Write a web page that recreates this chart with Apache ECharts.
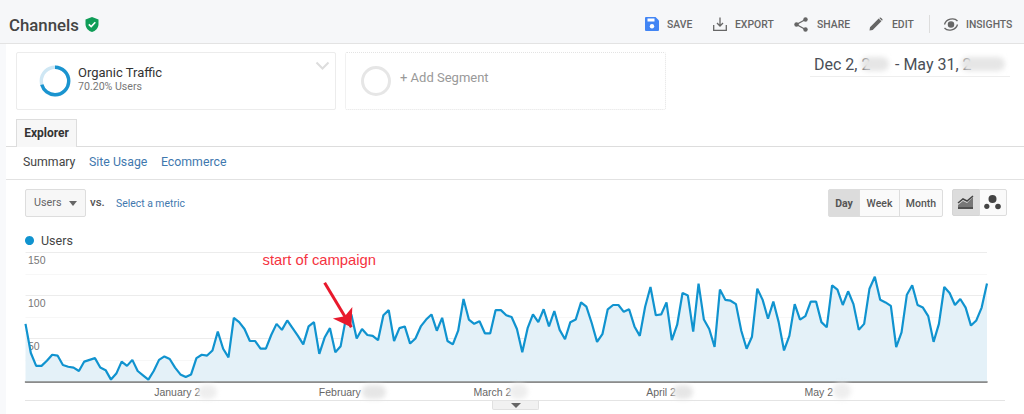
<!DOCTYPE html>
<html lang="en">
<head>
    <meta charset="UTF-8">
    <title>Channels - Users</title>
    <script src="https://cdn.jsdelivr.net/npm/echarts@6/dist/echarts.min.js"></script>
    <style>
        html,body{margin:0;padding:0;background:#fff;}
        body{position:relative;width:1024px;height:414px;overflow:hidden;font-family:Roboto,sans-serif;}
        .a{position:absolute;white-space:nowrap;box-sizing:border-box;}
        .tool{top:18px;font-size:10.4px;font-weight:500;color:#666;line-height:14px;}
        .link{color:#3f78ae;}
        .blob{background:#e6e6e6;filter:blur(2.5px);border-radius:8px;}
        .btn{top:189px;height:28px;line-height:27px;text-align:center;font-size:10.5px;font-weight:500;color:#555;border:1px solid #ddd;background:#fafafa;}
    </style>
</head>
<body>
<div class="a" style="left:0;top:0;width:1024px;height:44px;background:#f6f7f9;border-bottom:1px solid #e3e3e3;"></div>
<div class="a" style="left:0;top:44px;width:6px;height:370px;background:#f8f9fb;"></div>
<div class="a" style="left:9px;top:14px;font-size:16.8px;font-weight:500;color:#444;line-height:22px;">Channels</div>
<svg class="a" style="left:84px;top:16px;" width="16" height="17" viewBox="0 0 16 17">
    <path d="M8 1 L14.5 3.5 V8 C14.5 12 11.5 15 8 16 C4.5 15 1.5 12 1.5 8 V3.5 Z" fill="#0f9d58"/>
    <path d="M4.8 8.3 L7.2 10.6 L11.3 6.3" fill="none" stroke="#fff" stroke-width="1.6"/>
</svg>

<svg class="a" style="left:645px;top:17px;" width="14" height="14" viewBox="0 0 14 14">
    <path d="M1 0 H10.5 L14 3.5 V13 a1 1 0 0 1 -1 1 H1 a1 1 0 0 1 -1 -1 V1 a1 1 0 0 1 1 -1 Z" fill="#4285f4"/>
    <rect x="2.5" y="1.5" width="7" height="3" fill="#fff"/><circle cx="7" cy="9.3" r="2.2" fill="#fff"/>
</svg>
<div class="a tool" style="left:667px;">SAVE</div>
<svg class="a" style="left:713px;top:17px;" width="14" height="14" viewBox="0 0 14 14" fill="none" stroke="#666" stroke-width="1.3">
    <path d="M7 0.5 V9 M4 6 L7 9 L10 6 M0.7 8 V13.3 H13.3 V8"/>
</svg>
<div class="a tool" style="left:735px;">EXPORT</div>
<svg class="a" style="left:794px;top:17px;" width="14" height="15" viewBox="0 0 14 15">
    <path d="M11.5 2.5 L2.5 7.5 L11.5 12.5" fill="none" stroke="#666" stroke-width="1.3"/>
    <circle cx="11.5" cy="2.5" r="2.2" fill="#666"/><circle cx="2.5" cy="7.5" r="2.2" fill="#666"/><circle cx="11.5" cy="12.5" r="2.2" fill="#666"/>
</svg>
<div class="a tool" style="left:817px;">SHARE</div>
<svg class="a" style="left:869px;top:17px;" width="14" height="14" viewBox="0 0 14 14">
    <path d="M0.5 13.5 L1 10.3 L9.7 1.6 L12.4 4.3 L3.7 13 Z M10.6 0.7 a1 1 0 0 1 1.3 0 L13.3 2.1 a1 1 0 0 1 0 1.3 L13 3.7 L10.3 1 Z" fill="#666"/>
</svg>
<div class="a tool" style="left:892px;">EDIT</div>
<div class="a" style="left:929px;top:15px;width:1px;height:18px;background:#ddd;"></div>
<svg class="a" style="left:943px;top:17px;" width="16" height="15" viewBox="0 0 16 15" fill="none" stroke="#666" stroke-width="1.3">
    <path d="M1.5 7.5 C3 2 11 0 14.5 4 M14.5 7.5 C13 13 5 15 1.5 11"/><circle cx="8" cy="7.5" r="2.6" fill="#666"/>
</svg>
<div class="a tool" style="left:966px;">INSIGHTS</div>

<div class="a" style="left:16px;top:52px;width:320px;height:58px;border:1px solid #ececec;border-radius:2px;"></div>
<svg class="a" style="left:38px;top:64px;" width="34" height="34" viewBox="0 0 34 34">
    <circle cx="17" cy="17" r="13.7" fill="none" stroke="#cfe7f4" stroke-width="3.4"/>
    <circle cx="17" cy="17" r="13.7" fill="none" stroke="#1a94cf" stroke-width="3.4" stroke-dasharray="60.4 25.7" transform="rotate(-90 17 17)"/>
</svg>
<div class="a" style="left:78px;top:65px;font-size:13px;color:#333;line-height:16px;">Organic Traffic</div>
<div class="a" style="left:78px;top:80px;font-size:10.6px;color:#777;line-height:14px;">70.20% Users</div>
<svg class="a" style="left:315px;top:61px;" width="15" height="10" viewBox="0 0 15 10"><path d="M1.5 1.5 L7.5 7.5 L13.5 1.5" fill="none" stroke="#ddd" stroke-width="2"/></svg>

<div class="a" style="left:345px;top:52px;width:321px;height:58px;border:1px dotted #e3e3e3;border-radius:2px;"></div>
<svg class="a" style="left:360px;top:65px;" width="32" height="32" viewBox="0 0 32 32"><circle cx="16" cy="16" r="13.5" fill="none" stroke="#e6e6e6" stroke-width="3"/></svg>
<div class="a" style="left:400px;top:70px;font-size:13px;color:#999;line-height:16px;">+ Add Segment</div>

<div class="a" style="left:814px;top:55px;font-size:16px;color:#4a4f57;line-height:19px;">Dec 2, 2</div>
<div class="a" style="left:895px;top:55px;font-size:16px;color:#4a4f57;line-height:19px;">- May 31, 2</div>
<div class="a blob" style="left:861px;top:57px;width:28px;height:14px;"></div>
<div class="a blob" style="left:961px;top:57px;width:44px;height:14px;"></div>
<div class="a" style="left:810px;top:76px;width:200px;height:1px;background:#eee;"></div>

<div class="a" style="left:6px;top:146px;width:1018px;height:1px;background:#ddd;"></div>
<div class="a" style="left:16px;top:119px;width:61px;height:28px;background:#f7f7f7;border:1px solid #ddd;border-bottom:none;text-align:center;line-height:27px;font-size:12px;font-weight:700;color:#333;">Explorer</div>
<div class="a" style="left:23px;top:154px;font-size:12.3px;color:#444;line-height:16px;">Summary</div>
<div class="a link" style="left:89px;top:154px;font-size:12.3px;line-height:16px;">Site Usage</div>
<div class="a link" style="left:161px;top:154px;font-size:12.3px;line-height:16px;">Ecommerce</div>
<div class="a" style="left:6px;top:179px;width:1018px;height:1px;background:#e2e2e2;"></div>

<div class="a" style="left:25px;top:189px;width:61px;height:28px;background:#f7f7f7;border:1px solid #ddd;border-radius:2px;"></div>
<div class="a" style="left:34px;top:196px;font-size:10.8px;color:#666;line-height:14px;">Users</div>
<svg class="a" style="left:69px;top:201px;" width="8" height="5"><path d="M0 0 H8 L4 5 Z" fill="#666"/></svg>
<div class="a" style="left:90px;top:195px;font-size:11.5px;font-weight:500;color:#555;line-height:14px;">vs.</div>
<div class="a link" style="left:116px;top:197px;font-size:10.4px;line-height:14px;">Select a metric</div>

<div class="a btn" style="left:828px;width:32px;background:#dcdcdc;font-weight:700;border-radius:2px 0 0 2px;">Day</div>
<div class="a btn" style="left:859px;width:41px;">Week</div>
<div class="a btn" style="left:899px;width:44px;border-radius:0 2px 2px 0;">Month</div>
<div class="a" style="left:952px;top:189px;width:28px;height:27px;background:#dcdcdc;border:1px solid #d5d5d5;border-radius:2px 0 0 2px;"></div>
<div class="a" style="left:979px;top:189px;width:28px;height:27px;background:#fafafa;border:1px solid #ddd;border-radius:0 2px 2px 0;"></div>
<svg class="a" style="left:957px;top:195px;" width="18" height="16" viewBox="0 0 18 16">
    <path d="M1 10 L6 6 L10 8 L16 2 V14 H1 Z" fill="#777"/><path d="M1 8 L6 4 L10 6 L16 1 M1 13 H16" fill="none" stroke="#444" stroke-width="1.5"/>
</svg>
<svg class="a" style="left:984px;top:194px;" width="18" height="18" viewBox="0 0 18 18">
    <circle cx="8.5" cy="5" r="4" fill="#444"/><circle cx="2.8" cy="12.3" r="2.6" fill="#444"/><circle cx="14" cy="12.5" r="2.8" fill="#444"/>
</svg>

<div id="mybox" class="a" style="left:0;top:0;width:1024px;height:414px;"></div>

<div class="a blob" style="left:198px;top:385px;width:19px;height:14px;background:#eeeeee;"></div>
<div class="a blob" style="left:362px;top:385px;width:24px;height:14px;"></div>
<div class="a blob" style="left:509px;top:384px;width:19px;height:15px;background:#eeeeee;"></div>
<div class="a blob" style="left:673px;top:385px;width:20px;height:14px;"></div>
<div class="a blob" style="left:833px;top:383px;width:18px;height:16px;background:#eeeeee;"></div>
<div class="a" style="left:25px;top:400px;width:980px;height:1px;background:#e4e4e4;"></div>
<div class="a" style="left:492px;top:401px;width:47px;height:9px;background:#f1f1f1;border:1px solid #e0e0e0;border-top:none;border-radius:0 0 2px 2px;"></div>
<svg class="a" style="left:511px;top:403px;" width="10" height="5"><path d="M0 0 H10 L5 5 Z" fill="#666"/></svg>

<script>
    // days shown, Dec 2 to May 31
    var monthNames=['Dec','Jan','Feb','Mar','Apr','May'];
    var monthFirst=[2,1,1,1,1,1];
    var monthLast=[31,31,28,31,30,31];

    var tickDays=['Jan 1','Feb 1','Mar 1','Apr 1','May 1'];
    var tickLabels=['January 2','February','March 2','April 2','May 2'];
    // room kept for the blurred year behind each label
    var tickGaps=[17,23,17,11,16];

    var users=[
        67,33,18,18,24,31,30,19,17,16,12,23,25,27,16,13,2,9,23,18,25,12,7,2,12,25,29,26,16,8,
        5,8,27,31,30,36,58,38,28,74,69,61,47,47,38,38,54,67,60,71,62,53,43,64,69,32,51,62,34,41,74,
        78,50,61,54,53,48,77,83,47,62,64,44,50,64,72,78,59,74,47,43,59,96,72,67,70,56,56,
        83,83,77,75,61,34,62,78,69,84,64,82,60,49,69,72,92,87,68,46,55,84,89,89,81,84,64,53,87,110,77,78,
        92,48,66,103,100,58,114,72,61,40,107,95,94,90,59,38,52,108,95,73,93,69,36,53,90,72,76,93,93,69,
        63,112,107,89,105,90,60,67,108,122,95,92,88,40,57,101,112,89,86,76,46,67,110,103,89,96,86,65,71,86,114
    ];

    var categories=[];
    for(var m=0;m<monthNames.length;m++){
        for(var d=monthFirst[m];d<=monthLast[m];d++){
            categories.push(monthNames[m]+' '+d);
        }
    }

    var richLabels={t:{color:'#666',fontSize:10.5,fontFamily:'Liberation Sans'}};
    tickGaps.forEach(function(g,i){
        richLabels['g'+i]={width:g};
    });

    var mychart=echarts.init(document.getElementById('mybox'),null,{renderer:'svg'});
    mychart.setOption({
        animation:false,
        backgroundColor:'transparent',
        legend:{
            data:[{name:'Users',icon:'circle'}],
            left:20,
            top:229,
            itemWidth:9,
            itemHeight:9,
            itemGap:7,
            textStyle:{color:'#444',fontSize:12.5,fontFamily:'Roboto',padding:[0,0,0,2]}
        },
        grid:{left:25.5,right:37,top:252.7,height:128.6,containLabel:false},
        xAxis:{
            type:'category',
            boundaryGap:false,
            data:categories,
            axisLine:{lineStyle:{color:'#666',width:1.5}},
            axisTick:{show:false},
            splitLine:{show:false},
            axisLabel:{
                margin:5,
                hideOverlap:false,
                interval:function(i,name){return tickDays.indexOf(name)>=0;},
                formatter:function(name){
                    var k=tickDays.indexOf(name);
                    return '{t|'+tickLabels[k]+'}{g'+k+'| }';
                },
                rich:richLabels
            }
        },
        yAxis:{
            type:'value',
            min:0,
            max:150,
            interval:25,
            axisLine:{show:false},
            axisTick:{show:false},
            splitLine:{show:true,lineStyle:{color:['#ececec','#f7f7f7'],width:1}},
            axisLabel:{
                inside:true,
                margin:2.5,
                verticalAlign:'top',
                padding:[2,0,0,0],
                color:'#777',
                fontSize:10.5,
                fontFamily:'Liberation Sans',
                formatter:function(v){return (v>0&&v%50===0)?String(v):'';}
            }
        },
        series:[{
            name:'Users',
            type:'line',
            data:users,
            showSymbol:false,
            smooth:false,
            itemStyle:{color:'#1093cf'},
            lineStyle:{color:'#1093cf',width:2.2},
            areaStyle:{color:'#e4f1f8',opacity:1},
            markPoint:{
                silent:true,
                symbolSize:0,
                data:[{coord:['Jan 26',141],label:{
                    show:true,
                    position:'inside',
                    formatter:'start of campaign',
                    color:'#f5333f',
                    fontSize:14.8,
                    fontFamily:'Liberation Sans'
                }}]
            },
            markLine:{
                silent:true,
                symbol:['none','arrow'],
                symbolSize:17,
                label:{show:false},
                lineStyle:{color:'#e8192c',width:3,type:'solid'},
                data:[[{coord:['Jan 27',115]},{coord:['Feb 1',63]}]]
            }
        }]
    });
</script>
</body>
</html>
